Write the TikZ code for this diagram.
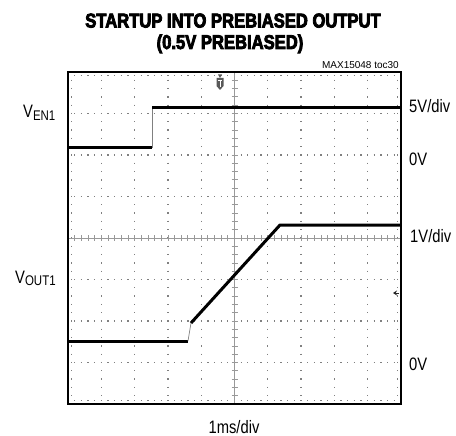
\documentclass[tikz,border=0pt]{standalone}
\usepackage{fontspec}
\setmainfont{Liberation Sans}
\newfontfamily\condfont{Liberation Sans}[FakeStretch=0.82]
\newfontfamily\titlefont{Liberation Sans}[FakeStretch=0.83,BoldFeatures={FakeBold=4}]
\usetikzlibrary{arrows.meta}
\newcommand{\vsig}[1]{V\raisebox{-2pt}{\fontsize{14}{14}\selectfont #1}}

\begin{document}
\begin{tikzpicture}[x=1pt,y=-1pt,
  frame/.style={line width=2.6pt},
  trace/.style={line width=3pt, line join=round},
  edge/.style={gray, line width=0.7pt},
  cline/.style={gray!80, line width=0.8pt},
  hdots/.style={gray, line width=1.3pt, dash pattern=on 1.3pt off 5.36pt, dash phase=0.65pt},
  vdots/.style={gray, line width=1.3pt, dash pattern=on 1.3pt off 7pt, dash phase=0.65pt},
  titletext/.style={font=\titlefont\bfseries\fontsize{20}{22}\selectfont, inner sep=0pt, anchor=base},
  lbl/.style={font=\condfont\fontsize{18}{18}\selectfont, inner sep=0pt, anchor=base west}]
  \useasboundingbox (0,0) rectangle (456,436);

  % Title
  \node[titletext] (title1) at (233,27.5) {STARTUP INTO PREBIASED OUTPUT};
  \node[titletext] (title2) at (230,49) {(0.5V PREBIASED)};
  \node[font=\fontsize{10}{10}\selectfont, inner sep=0pt, anchor=base east] (tocref) at (399,69) {MAX15048 toc30};

  % Grid
  \foreach \j in {1,2,3,5,6,7}
    \draw[hdots] (68,{72+41.5*\j}) -- (401,{72+41.5*\j});
  \foreach \i in {1,2,3,4,6,7,8,9}
    \draw[vdots] ({68+33.3*\i},72) -- ({68+33.3*\i},404);
  \draw[hdots] (68,75.5) -- (401,75.5);
  \draw[hdots] (68,400.5) -- (401,400.5);
  \draw[vdots] (71.5,72) -- (71.5,404);
  \draw[vdots] (397.5,72) -- (397.5,404);

  % Centre lines with minor ticks
  \draw[cline] (68,238) -- (401,238);
  \foreach \k in {1,...,49}
    \draw[cline] ({68+6.66*\k},235) -- ++(0,6);
  \draw[cline] (234.5,72) -- (234.5,404);
  \foreach \k in {1,...,39}
    \draw[cline] (231.5,{72+8.3*\k}) -- ++(6,0);

  % Traces
  \draw[trace] (68,148) -- (152,148);
  \draw[edge] (152,148) -- (152,108);
  \draw[trace] (152,108) -- (401,108);
  \draw[trace] (68,341) -- (188,341);
  \draw[edge] (188,341) -- (191,323);
  \draw[trace] (191,323) -- (280,225) -- (401,225);

  % Markers
  \fill[gray!70!black] (218,74.5) -- (222,74.5) -- (220,78) -- cycle;
  \fill[gray!70!black] (216.5,78) -- (223.5,78) -- (223.5,86) -- (220,90) -- (216.5,86) -- cycle;
  \draw[white, line width=0.5pt] (218,80) -- (222,80) (220,80) -- (220,87);
  \draw[gray!30!black, line width=1pt, -{Stealth[length=4pt,width=5pt]}] (399,293) -- (393,293);

  \draw[frame] (68,72) rectangle (401,404);

  % Annotations
  \node[lbl] (ven) at (23,118) {\vsig{EN1}};
  \node[lbl] (vout) at (15,283) {\vsig{OUT1}};
  \node[lbl] (scaleA) at (409,113) {5V/div};
  \node[lbl] (zeroA) at (409,165) {0V};
  \node[lbl] (scaleB) at (410,243) {1V/div};
  \node[lbl] (zeroB) at (409,370) {0V};
  \node[lbl, anchor=base] (tdiv) at (234,433) {1ms/div};
\end{tikzpicture}
\end{document}
